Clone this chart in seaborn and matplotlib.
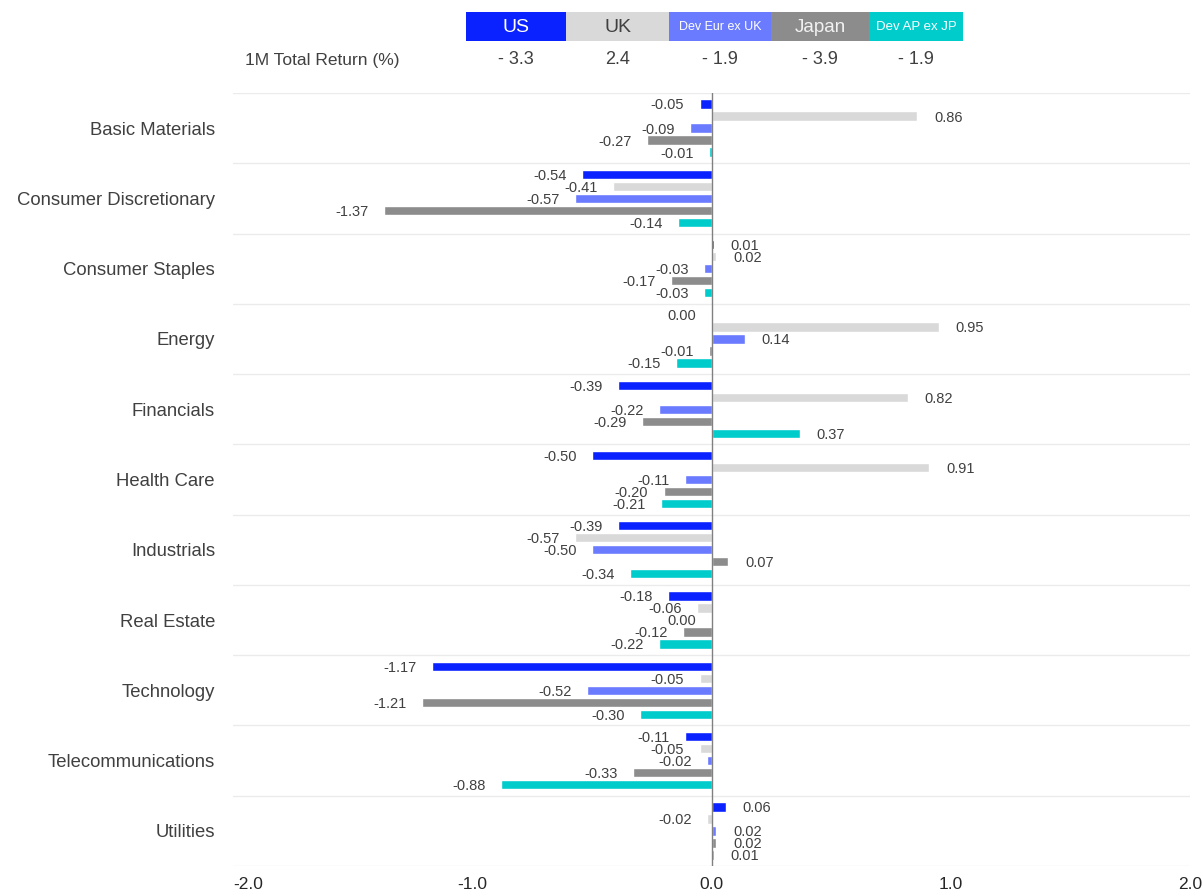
import matplotlib
matplotlib.use("Agg")
import matplotlib.pyplot as plt
import seaborn as sns
import pandas as pd
from matplotlib.patches import Rectangle

# Sector contributions to 1M total return (%) by region
sectors = ["Basic Materials", "Consumer Discretionary", "Consumer Staples", "Energy",
           "Financials", "Health Care", "Industrials", "Real Estate", "Technology",
           "Telecommunications", "Utilities"]
regions = ["US", "UK", "Dev Eur ex UK", "Japan", "Dev AP ex JP"]

us = [-0.05, -0.54, 0.01, 0.00, -0.39, -0.50, -0.39, -0.18, -1.17, -0.11, 0.06]
uk = [0.86, -0.41, 0.02, 0.95, 0.82, 0.91, -0.57, -0.06, -0.05, -0.05, -0.02]
dev_eur = [-0.09, -0.57, -0.03, 0.14, -0.22, -0.11, -0.50, 0.00, -0.52, -0.02, 0.02]
japan = [-0.27, -1.37, -0.17, -0.01, -0.29, -0.20, 0.07, -0.12, -1.21, -0.33, 0.02]
dev_ap = [-0.01, -0.14, -0.03, -0.15, 0.37, -0.21, -0.34, -0.22, -0.30, -0.88, 0.01]

total_return = [-3.3, 2.4, -1.9, -3.9, -1.9]
xticks = [-2, -1, 0, 1, 2]
xtick_labels = ["-2.0", "-1.0", "0.0", "1.0", "2.0"]

colors = ["#0A22FF", "#D9D9D9", "#6B7BFF", "#8C8C8C", "#00CCCC"]
header_text_colors = ["white", "#404040", "white", "#F2F2F2", "white"]
header_font_sizes = [14, 14, 9, 13.5, 9.5]

series = [us, uk, dev_eur, japan, dev_ap]
df = pd.DataFrame({
    "Sector": sectors * len(regions),
    "Region": [r for r in regions for _ in sectors],
    "Return": [v for s in series for v in s],
})

sns.set_theme(style="white")
plt.rcParams["font.family"] = ["Liberation Sans", "DejaVu Sans"]
text_color = "#404040"

W, H = 1203, 896
fig = plt.figure(figsize=(W / 100, H / 100), dpi=100)
ax = fig.add_axes([233 / W, 1 - 866 / H, (1190 - 233) / W, (866 - 93) / H])

sns.barplot(data=df, y="Sector", x="Return", hue="Region", hue_order=regions,
            order=sectors, palette=colors, orient="h", width=0.855, gap=0.22,
            saturation=1, errorbar=None, legend=False, ax=ax)

ax.set_xlim(-2, 2)
ax.set_ylim(len(sectors) - 0.5, -0.5)

# category separators and zero line
for k in range(len(sectors) + 1):
    ax.axhline(k - 0.5, color="#EBEBEB", lw=1, zorder=0)
ax.axvline(0, color="#808080", lw=1, zorder=3)

# value labels at bar ends
for container, vals in zip(ax.containers, series):
    for bar, v in zip(container, vals):
        yc = bar.get_y() + bar.get_height() / 2
        if v > 0:
            ax.annotate(f"{v:.2f}", xy=(v, yc), xytext=(12, -1), textcoords="offset points",
                        ha="left", va="center", fontsize=10.5, color=text_color)
        else:
            ax.annotate(f"{v:.2f}" if v != 0 else "0.00", xy=(v, yc), xytext=(-11, -1),
                        textcoords="offset points", ha="right", va="center",
                        fontsize=10.5, color=text_color)

ax.set_xticks(xticks)
ax.set_xticklabels(xtick_labels, fontsize=12.5, color="#262626")
ax.get_xticklabels()[0].set_ha("left")
ax.tick_params(axis="x", length=0, pad=8)
ax.tick_params(axis="y", length=0, pad=13, labelsize=13.3, labelcolor=text_color)
ax.set_xlabel("")
ax.set_ylabel("")
for sp in ax.spines.values():
    sp.set_visible(False)

# header: region boxes and total returns
edges = [466, 566, 669, 771, 869, 963]
for i, reg in enumerate(regions):
    x0, x1 = edges[i], edges[i + 1]
    fig.patches.append(Rectangle((x0 / W, 1 - 41 / H), (x1 - x0) / W, 29 / H,
                                 transform=fig.transFigure, facecolor=colors[i],
                                 edgecolor="none"))
    xc = (x0 + x1) / 2 / W
    fig.text(xc, 1 - 27 / H, reg, ha="center", va="center",
             fontsize=header_font_sizes[i], color=header_text_colors[i])
    v = total_return[i]
    s = f"- {abs(v):.1f}" if v < 0 else f"{v:.1f}"
    fig.text(xc, 1 - 60 / H, s, ha="center", va="center", fontsize=13, color=text_color)

fig.text(245 / W, 1 - 60 / H, "1M Total Return (%)", ha="left", va="center",
         fontsize=12.5, color=text_color)

fig.savefig("out.png", dpi=100)
